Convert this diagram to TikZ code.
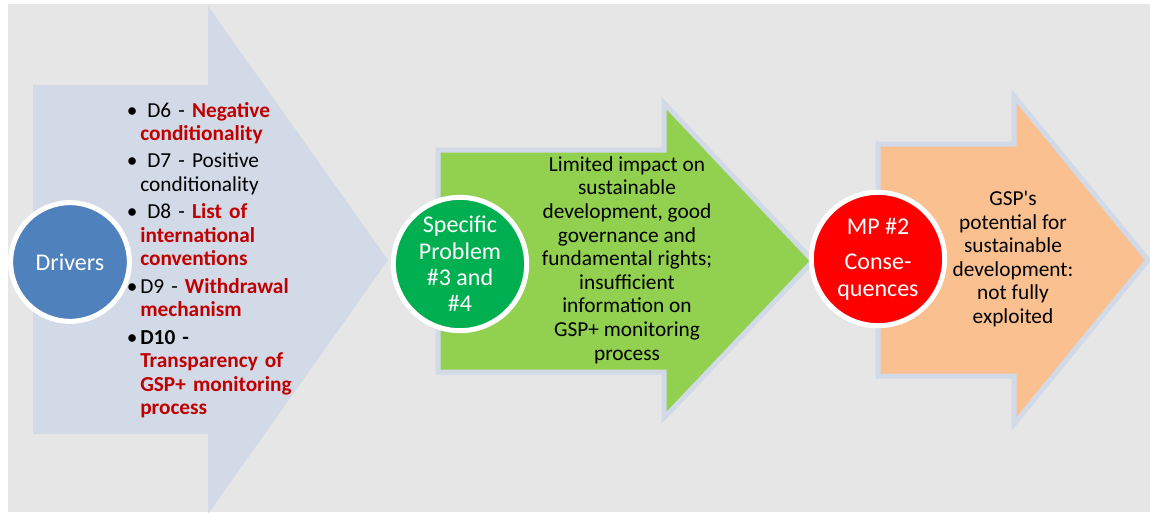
\documentclass[tikz,border=0pt]{standalone}
\usepackage{fontspec}
\setmainfont{Carlito}
\usepackage{tikz}
\usetikzlibrary{positioning}

\definecolor{bggrey}{HTML}{E6E6E6}
\definecolor{paleblue}{HTML}{D2DAE7}
\definecolor{leafgreen}{HTML}{92D050}
\definecolor{peach}{HTML}{FAC090}
\definecolor{drvblue}{HTML}{4F81BD}
\definecolor{probgreen}{HTML}{00B050}
\definecolor{mpred}{HTML}{FF0000}
\definecolor{darkred}{HTML}{C00000}
\newcommand{\hot}[1]{\textbf{\color{darkred}#1}}
\newcommand{\drvbullet}{\leavevmode\llap{\textbullet\hspace{2pt}}}

\begin{document}
\begin{tikzpicture}[x=0.75pt,y=-0.75pt,
  disc/.style={circle,draw=white,line width=3.75pt,text=white,align=center,inner sep=0pt,
    font=\fontsize{18}{19.8}\selectfont},
  blurb/.style={align=center,inner sep=0pt,font=\fontsize{16}{17.7}\selectfont},
  rim/.style={draw=paleblue,line width=3.75pt}]
  \useasboundingbox (0,0) rectangle (1150,512);
  \fill[white] (0,0) rectangle (1150,512);
  \fill[bggrey] (8,4) rectangle (1150,512);

  % arrows
  \begin{scope}
    \clip (8,4) rectangle (1150,512);
    \fill[paleblue] (33,85) -- (208,85) -- (208,6) -- (388,260) -- (208,514)
      -- (208,434) -- (33,434) -- cycle;
    \filldraw[fill=leafgreen,rim] (438,150) -- (664,150) -- (664,103) -- (813,261)
      -- (664,418) -- (664,372) -- (438,372) -- cycle;
    \filldraw[fill=peach,rim] (878,144) -- (1014,144) -- (1014,96) -- (1148,260)
      -- (1014,424) -- (1014,376) -- (878,376) -- cycle;
  \end{scope}

  % circles
  \node[disc,fill=drvblue,minimum size=89pt]    (drivers) at (70,262) {Drivers};
  \node[disc,fill=probgreen,minimum size=100pt] (problem) at (460,264) {Specific\\Problem\\\#3 and\\\#4};
  \node[disc,fill=mpred,minimum size=100pt]     (mp)      at (878,259) {MP \#2\\[7pt]Conse-\\quences};

  % texts
  \node[anchor=base west,inner sep=0pt,text width=125pt,align=left,
    font=\fontsize{16}{17.6}\selectfont] (drvlist) at (140,117) {%
    \setlength{\parskip}{3pt}%
    \drvbullet\ D6 - \hot{Negative}\\\hot{conditionality}\par
    \drvbullet\ D7 - Positive\\conditionality\par
    \drvbullet\ D8 - \hot{List of}\\\hot{international}\\\hot{conventions}\par
    \drvbullet D9 - \hot{Withdrawal}\\\hot{mechanism}\par
    \drvbullet\textbf{D10 -}\\\hot{Transparency of}\\\hot{GSP+ monitoring}\\\hot{process}};
  \node[blurb] (impact) at (627,260) {Limited impact on\\sustainable\\development, good\\governance and\\fundamental rights;\\insufficient\\information on\\GSP+ monitoring\\process};
  \node[blurb] (potential) at (1013,259) {GSP\textquotesingle s\\potential for\\sustainable\\development:\\not fully\\exploited};
\end{tikzpicture}
\end{document}
